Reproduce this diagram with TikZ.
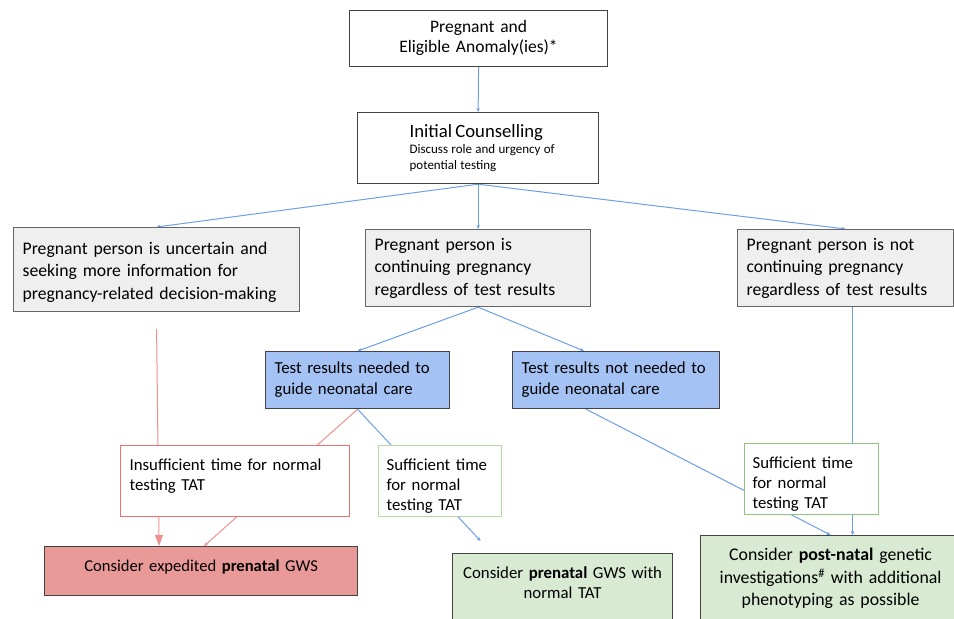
\documentclass[tikz,border=0pt]{standalone}
\usepackage{fontspec}
\setmainfont{Carlito}
\usetikzlibrary{arrows.meta,backgrounds}
\definecolor{lineblue}{HTML}{6D9EEB}
\definecolor{linered}{HTML}{EE9090}
\definecolor{greyfill}{HTML}{EFEFEF}
\definecolor{greyline}{HTML}{666666}
\definecolor{darkline}{HTML}{434343}
\definecolor{bluefill}{HTML}{A4C2F4}
\definecolor{redfill}{HTML}{EA9999}
\definecolor{greenfill}{HTML}{D9EAD3}
\definecolor{redline}{HTML}{EE7070}
\definecolor{greenline}{HTML}{93C47D}
\definecolor{palegreen}{HTML}{B6D7A8}

\begin{document}
\begin{tikzpicture}[x=1pt,y=-1pt]
	\tikzstyle{BOX} = [line width=1.2pt, anchor=north west, inner xsep=9pt, inner ysep=0pt, align=left]
	\tikzstyle{START} = [BOX, draw=darkline, fill=white, align=center]
	\tikzstyle{QUESTION} = [BOX, draw=greyline, fill=greyfill, font=\fontsize{17.7}{22.5}\selectfont]
	\tikzstyle{NEED} = [BOX, draw=darkline, fill=bluefill, font=\fontsize{16.8}{21}\selectfont]
	\tikzstyle{TIME} = [BOX, fill=white, font=\fontsize{16.8}{20}\selectfont]
	\tikzstyle{LATE} = [TIME, draw=redline]
	\tikzstyle{ONTIME} = [TIME, draw=greenline]
	\tikzstyle{EXPRESS} = [BOX, draw=darkline, fill=redfill, align=center, font=\fontsize{16.6}{20}\selectfont]
	\tikzstyle{GREEN} = [BOX, draw=darkline, fill=greenfill, align=center, font=\fontsize{16.8}{20}\selectfont]
	\tikzstyle{FLOW} = [line width=1pt, draw=lineblue, -{Stealth[length=4pt,width=3.5pt]}]
	\tikzstyle{URGENT} = [line width=1pt, draw=linered, -{Stealth[length=4pt,width=3.5pt]}]

	\useasboundingbox (0,0) rectangle (954,619);

	\node[START, minimum width=258pt, minimum height=56pt, text width=240pt, text depth=24pt, font=\fontsize{17.5}{20}\selectfont] (PREG) at (349,10) {Pregnant and\\Eligible Anomaly(ies)*};
	\node[START, minimum width=241pt, minimum height=71pt, text width=181pt, inner xsep=0pt, align=left] (COUNSEL) at (357,112) {{\fontsize{18.7}{19}\selectfont\hspace*{22pt}Initial Counselling\par}\fontsize{13}{16}\selectfont\hspace*{22pt}Discuss role and urgency of\par\hspace*{22pt}potential testing\par};

	\node[QUESTION, minimum width=286pt, minimum height=84pt, text width=268pt, text height=17pt] (UNSURE) at (13,227) {Pregnant person is uncertain and\\seeking more information for\\pregnancy-related decision-making};
	\node[QUESTION, minimum width=225pt, minimum height=77pt, text width=207pt] (CONTINUE) at (365,229) {Pregnant person is\\continuing pregnancy\\regardless of test results};
	\node[QUESTION, minimum width=216pt, minimum height=77pt, text width=198pt] (STOP) at (737,229) {Pregnant person is not\\continuing pregnancy\\regardless of test results};

	\node[NEED, minimum width=184pt, minimum height=57pt, text width=166pt] (NEEDED) at (265,351) {Test results needed to\\guide neonatal care};
	\node[NEED, minimum width=207pt, minimum height=57pt, text width=189pt] (NOTNEEDED) at (512,351) {Test results not needed to\\guide neonatal care};

	\node[LATE, minimum width=229pt, minimum height=71pt, text width=211pt, text depth=33pt] (SHORT) at (120,445) {Insufficient time for normal\\testing TAT};
	\node[ONTIME, draw=palegreen, minimum width=123pt, minimum height=71pt, text width=107pt, inner xsep=8pt, text height=22pt] (ENOUGH) at (378,445) {Sufficient time\\for normal\\testing TAT};
	\node[ONTIME, minimum width=134pt, minimum height=71pt, text width=118pt, inner xsep=8pt, text height=22pt] (ENOUGHPOST) at (744,443) {Sufficient time\\for normal\\testing TAT};

	\node[EXPRESS, minimum width=313pt, minimum height=49pt, text width=295pt, text depth=10pt] (RAPID) at (44,546) {Consider expedited \textbf{prenatal} GWS};
	\node[GREEN, minimum width=220pt, minimum height=80pt, text width=202pt, text depth=42pt] (PRENATAL) at (452,553) {Consider \textbf{prenatal} GWS with\\normal TAT};
	\node[GREEN, minimum width=260pt, minimum height=100pt, text width=242pt, text depth=62pt, font=\fontsize{17.8}{22.5}\selectfont] (POSTNATAL) at (700,535) {Consider \textbf{post-natal} genetic\\investigations\textsuperscript{\#} with additional\\phenotyping as possible};

	\coordinate (DROP) at ([xshift=7pt]STOP.south);

	\begin{scope}[on background layer]
		\draw[FLOW] (PREG.south) -- (COUNSEL.north);
		\draw[FLOW] (COUNSEL.south) -- (UNSURE.north);
		\draw[FLOW] (COUNSEL.south) -- (CONTINUE.north);
		\draw[FLOW] (COUNSEL.south) -- (STOP.north);
		\draw[FLOW] (CONTINUE.south) -- (NEEDED.north);
		\draw[FLOW] (CONTINUE.south) -- ([xshift=-32pt]NOTNEEDED.north);
		\draw[URGENT, -{Triangle[length=11pt,width=8pt]}] ([yshift=-17pt]UNSURE.south) -- ([xshift=-42pt]RAPID.north);
		\draw[URGENT] (NEEDED.south) -- ([xshift=3pt]RAPID.north);
		\draw[FLOW] (NEEDED.south) -- ([shift={(-82pt,12pt)}]PRENATAL.north);
		\draw[FLOW] ([xshift=-30pt]NOTNEEDED.south) -- (POSTNATAL.north);
		\draw[FLOW] (DROP) -- (DROP |- POSTNATAL.north);
	\end{scope}
\end{tikzpicture}
\end{document}
